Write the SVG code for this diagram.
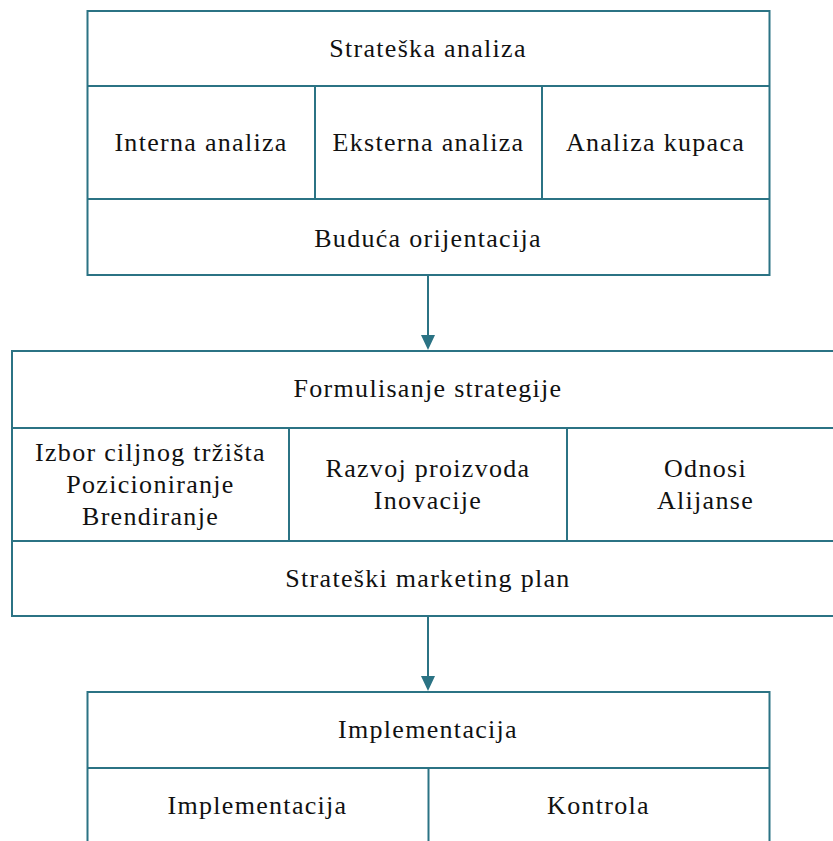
<svg xmlns="http://www.w3.org/2000/svg" width="833" height="841" viewBox="0 0 833 841">
<style>
.box{fill:#fff;stroke:#2b7384;stroke-width:2}
.ln{stroke:#2b7384;stroke-width:2;fill:none}
.ah{fill:#2b7384}
text{font-family:"Liberation Serif","Times New Roman",serif;font-size:26px;letter-spacing:1.3px;fill:#111;text-anchor:middle;dominant-baseline:central}
</style>
<g id="connectors">
<line class="ln" x1="428" y1="275" x2="428" y2="336"/>
<path class="ah" d="M421,335 L435,335 L428,350 Z"/>
<line class="ln" x1="428" y1="616" x2="428" y2="677"/>
<path class="ah" d="M421,676 L435,676 L428,691 Z"/>
</g>
<g id="strateska-analiza">
<rect class="box" x="87.5" y="11" width="682" height="264"/>
<line class="ln" x1="87.5" y1="86" x2="769.5" y2="86"/>
<line class="ln" x1="87.5" y1="199" x2="769.5" y2="199"/>
<line class="ln" x1="315" y1="86" x2="315" y2="199"/>
<line class="ln" x1="542" y1="86" x2="542" y2="199"/>
<text x="428" y="48">Strateška analiza</text>
<text x="201" y="142">Interna analiza</text>
<text x="428.5" y="142">Eksterna analiza</text>
<text x="655.5" y="142">Analiza kupaca</text>
<text x="428" y="238">Buduća orijentacija</text>
</g>
<g id="formulisanje-strategije">
<rect class="box" x="12" y="351" width="832" height="265"/>
<line class="ln" x1="12" y1="428" x2="844" y2="428"/>
<line class="ln" x1="12" y1="541" x2="844" y2="541"/>
<line class="ln" x1="289" y1="428" x2="289" y2="541"/>
<line class="ln" x1="567" y1="428" x2="567" y2="541"/>
<text x="428" y="388">Formulisanje strategije</text>
<text x="150.5" y="452">Izbor ciljnog tržišta</text>
<text x="150.5" y="484">Pozicioniranje</text>
<text x="150.5" y="516">Brendiranje</text>
<text x="428" y="468">Razvoj proizvoda</text>
<text x="428" y="500">Inovacije</text>
<text x="705.5" y="468">Odnosi</text>
<text x="705.5" y="500">Alijanse</text>
<text x="428" y="578">Strateški marketing plan</text>
</g>
<g id="implementacija">
<rect class="box" x="87.5" y="692" width="682" height="160"/>
<line class="ln" x1="87.5" y1="768" x2="769.5" y2="768"/>
<line class="ln" x1="428.5" y1="768" x2="428.5" y2="852"/>
<text x="428" y="729">Implementacija</text>
<text x="257.5" y="805">Implementacija</text>
<text x="598.5" y="805">Kontrola</text>
</g>
</svg>
